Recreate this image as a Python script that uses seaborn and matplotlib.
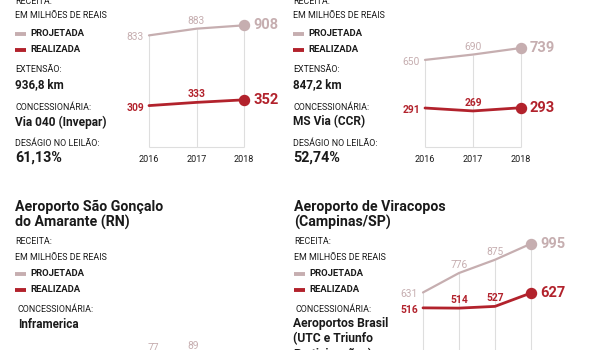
import matplotlib.pyplot as plt
import pandas as pd
import seaborn as sns
from matplotlib.lines import Line2D

# revenue in millions of reais, projected vs realized
via040_years = [2016, 2017, 2018]
via040_projected = [833, 883, 908]
via040_realized = [309, 333, 352]

msvia_years = [2016, 2017, 2018]
msvia_projected = [650, 690, 739]
msvia_realized = [291, 269, 293]

viracopos_years = [2015, 2016, 2017, 2018]
viracopos_projected = [631, 776, 875, 995]
viracopos_realized = [516, 514, 527, 627]

# only the two middle labels of this chart show at the bottom edge of the crop
saogoncalo_years = [2016, 2017]
saogoncalo_projected = [77, 89]

W, H = 589, 350
PROJ = "#c6aeb0"
REAL = "#b2222c"
GRID = "#dedede"
INK = "#1a1a1a"
SCALE = 0.134  # pixels per million

sns.set_theme(style="white")
plt.rcParams["font.family"] = ["Roboto", "DejaVu Sans"]

fig = plt.figure(figsize=(W / 100, H / 100), dpi=100)
bg = fig.add_axes([0, 0, 1, 1])
bg.set_xlim(0, W)
bg.set_ylim(H, 0)
bg.axis("off")


def txt(x, y, s, size=6.4, weight="normal", color=INK):
    bg.text(x, y, s, fontsize=size, fontweight=weight, color=color,
            ha="left", va="center")


def legend(x, y):
    for dy, color, label in ((0, PROJ, "PROJETADA"), (16, REAL, "REALIZADA")):
        bg.add_line(Line2D([x, x + 11], [y + dy, y + dy], color=color, lw=2.8,
                           solid_capstyle="butt"))
        txt(x + 15, y + dy, label, size=6.8, weight="bold")


def chart_axes(x0, x1, baseline, xlim):
    ax = fig.add_axes([x0 / W, (H - baseline) / H, (x1 - x0) / W, 1000 * SCALE / H])
    ax.set_xlim(*xlim)
    ax.set_ylim(0, 1000)
    ax.axis("off")
    return ax


def draw_chart(ax, years, projected, realized):
    ax.vlines(years, 0, projected, color=GRID, lw=0.8, zorder=0, clip_on=False)
    ax.hlines(0, years[0], years[-1], color=GRID, lw=0.8, zorder=0, clip_on=False)
    for vals, color, lw, w in ((projected, PROJ, 1.6, "normal"), (realized, REAL, 2.0, "bold")):
        df = pd.DataFrame({"ano": years, "valor": vals})
        sns.lineplot(data=df, x="ano", y="valor", ax=ax, color=color, lw=lw, clip_on=False)
        ax.scatter([years[-1]], [vals[-1]], s=52, color=color, zorder=5, clip_on=False)
        ax.annotate(f"{vals[0]}", (years[0], vals[0]), xytext=(-5, -2),
                    textcoords="offset pixels", ha="right", va="center",
                    fontsize=7.4, color=color, fontweight=w)
        for yr, v in zip(years[1:-1], vals[1:-1]):
            ax.annotate(f"{v}", (yr, v), xytext=(0, 3), textcoords="offset pixels",
                        ha="center", va="bottom", fontsize=7.4, color=color, fontweight=w)
        ax.annotate(f"{vals[-1]}", (years[-1], vals[-1]), xytext=(9, 0),
                    textcoords="offset pixels", ha="left", va="center",
                    fontsize=10.5, color=color, fontweight="bold")
    for yr in years:
        ax.annotate(f"{yr}", (yr, 0), xytext=(0, -13), textcoords="offset pixels",
                    ha="center", va="center", fontsize=6.5, color=INK)
    ax.set_xlabel("")
    ax.set_ylabel("")
    ax.axis("off")


# top left: Via 040
txt(15, 2, "RECEITA:")
txt(15, 16, "EM MILHÕES DE REAIS")
legend(15, 34)
txt(15, 70, "EXTENSÃO:")
txt(15, 85, "936,8 km", size=8.4, weight="bold")
txt(15, 107, "CONCESSIONÁRIA:")
txt(15, 122, "Via 040 (Invepar)", size=8.6, weight="bold")
txt(15, 143, "DESÁGIO NO LEILÃO:")
txt(15, 158, "61,13%", size=10.3, weight="bold")
ax1 = chart_axes(149, 244, 147, (2016, 2018))
draw_chart(ax1, via040_years, via040_projected, via040_realized)

# top right: MS Via
txt(293, 2, "RECEITA:")
txt(293, 16, "EM MILHÕES DE REAIS")
legend(293, 34)
txt(293, 70, "EXTENSÃO:")
txt(293, 85, "847,2 km", size=8.4, weight="bold")
txt(293, 107, "CONCESSIONÁRIA:")
txt(293, 122, "MS Via (CCR)", size=8.6, weight="bold")
txt(293, 143, "DESÁGIO NO LEILÃO:")
txt(293, 158, "52,74%", size=10.3, weight="bold")
ax2 = chart_axes(425, 521, 147, (2016, 2018))
draw_chart(ax2, msvia_years, msvia_projected, msvia_realized)

# bottom left: São Gonçalo do Amarante
txt(15, 207, "Aeroporto São Gonçalo", size=10.2, weight="bold")
txt(15, 222, "do Amarante (RN)", size=10.2, weight="bold")
txt(15, 242, "RECEITA:")
txt(15, 257, "EM MILHÕES DE REAIS")
legend(15, 274)
txt(18, 310, "CONCESSIONÁRIA:")
txt(18, 324, "Inframerica", size=8.4, weight="bold")
ax3 = chart_axes(113, 233, 366, (2015, 2018))
for yr, v in zip(saogoncalo_years, saogoncalo_projected):
    ax3.annotate(f"{v}", (yr, v), xytext=(0, 3), textcoords="offset pixels",
                 ha="center", va="bottom", fontsize=7.4, color=PROJ)

# bottom right: Viracopos
txt(294, 207, "Aeroporto de Viracopos", size=10.2, weight="bold")
txt(294, 222, "(Campinas/SP)", size=10.2, weight="bold")
txt(294, 242, "RECEITA:")
txt(294, 257, "EM MILHÕES DE REAIS")
legend(294, 274)
txt(295, 310, "CONCESSIONÁRIA:")
txt(293, 324, "Aeroportos Brasil", size=8.7, weight="bold")
txt(293, 339, "(UTC e Triunfo", size=8.7, weight="bold")
txt(293, 354, "Participações)", size=8.7, weight="bold")
ax4 = chart_axes(423, 531, 377, (2015, 2018))
draw_chart(ax4, viracopos_years, viracopos_projected, viracopos_realized)

fig.savefig("out.png", dpi=100)
